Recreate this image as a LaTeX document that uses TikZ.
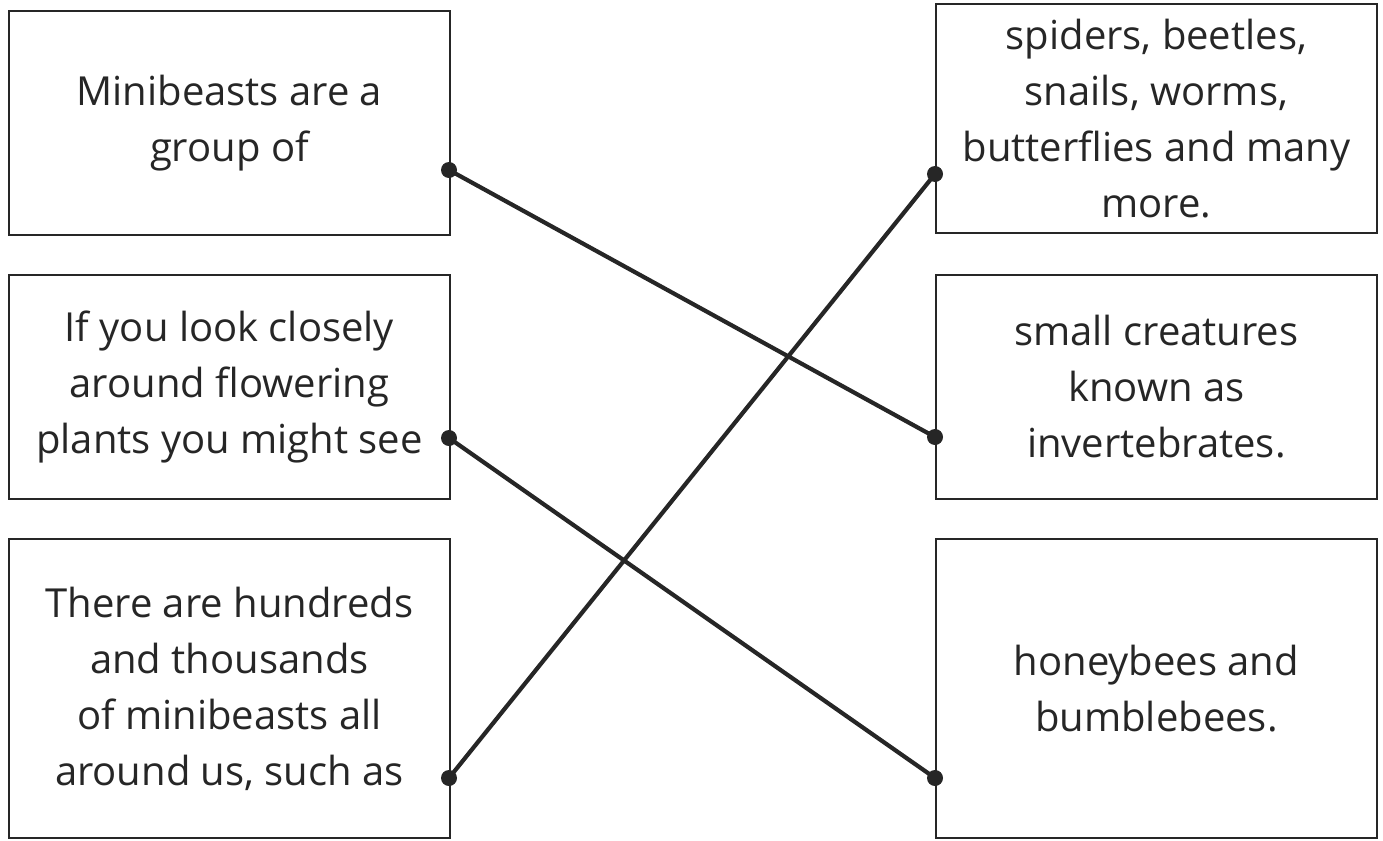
\documentclass[tikz,border=0pt]{standalone}
\usepackage{fontspec}
\setmainfont{Open Sans}
\definecolor{ink}{HTML}{262626}

\begin{document}
\begin{tikzpicture}[x=0.5pt,y=-0.5pt,
	text box/.style = {rectangle,draw=ink,line width=0.9pt,anchor=north west,
		minimum width=220.5pt,inner sep=0pt,align=center,text=ink,
		font=\fontsize{20}{28}\selectfont},
	dot/.style = {circle,fill=ink,inner sep=0pt,minimum size=8pt},
	link/.style = {draw=ink,line width=2.1pt}]
	\useasboundingbox (0,0) rectangle (1383,841);
	
	\node[text box,minimum height=112pt] at (8,10) (l1) {Minibeasts are a\\group of};
	\node[text box,minimum height=112pt] at (8,274) (l2) {If you look closely\\around flowering\\plants you might see};
	\node[text box,minimum height=149.5pt] at (8,538) (l3) {There are hundreds\\and thousands\\of minibeasts all\\around us, such as};
	
	\node[text box,minimum height=114.5pt] at (935,3) (r1) {spiders, beetles,\\snails, worms,\\butterflies and many\\more.};
	\node[text box,minimum height=112pt] at (935,274) (r2) {small creatures\\known as\\invertebrates.};
	\node[text box,minimum height=149.5pt] at (935,538) (r3) {honeybees and\\bumblebees.};
	
	\coordinate (a1) at (449,170);
	\coordinate (a2) at (449,438);
	\coordinate (a3) at (449,778);
	\coordinate (b1) at (935,174);
	\coordinate (b2) at (935,437);
	\coordinate (b3) at (935,778);
	
	\path[link]
	(a1) -- (b2)
	(a2) -- (b3)
	(a3) -- (b1);
	
	\foreach \p in {a1,a2,a3,b1,b2,b3}
	\node[dot] at (\p) {};
\end{tikzpicture}
\end{document}
